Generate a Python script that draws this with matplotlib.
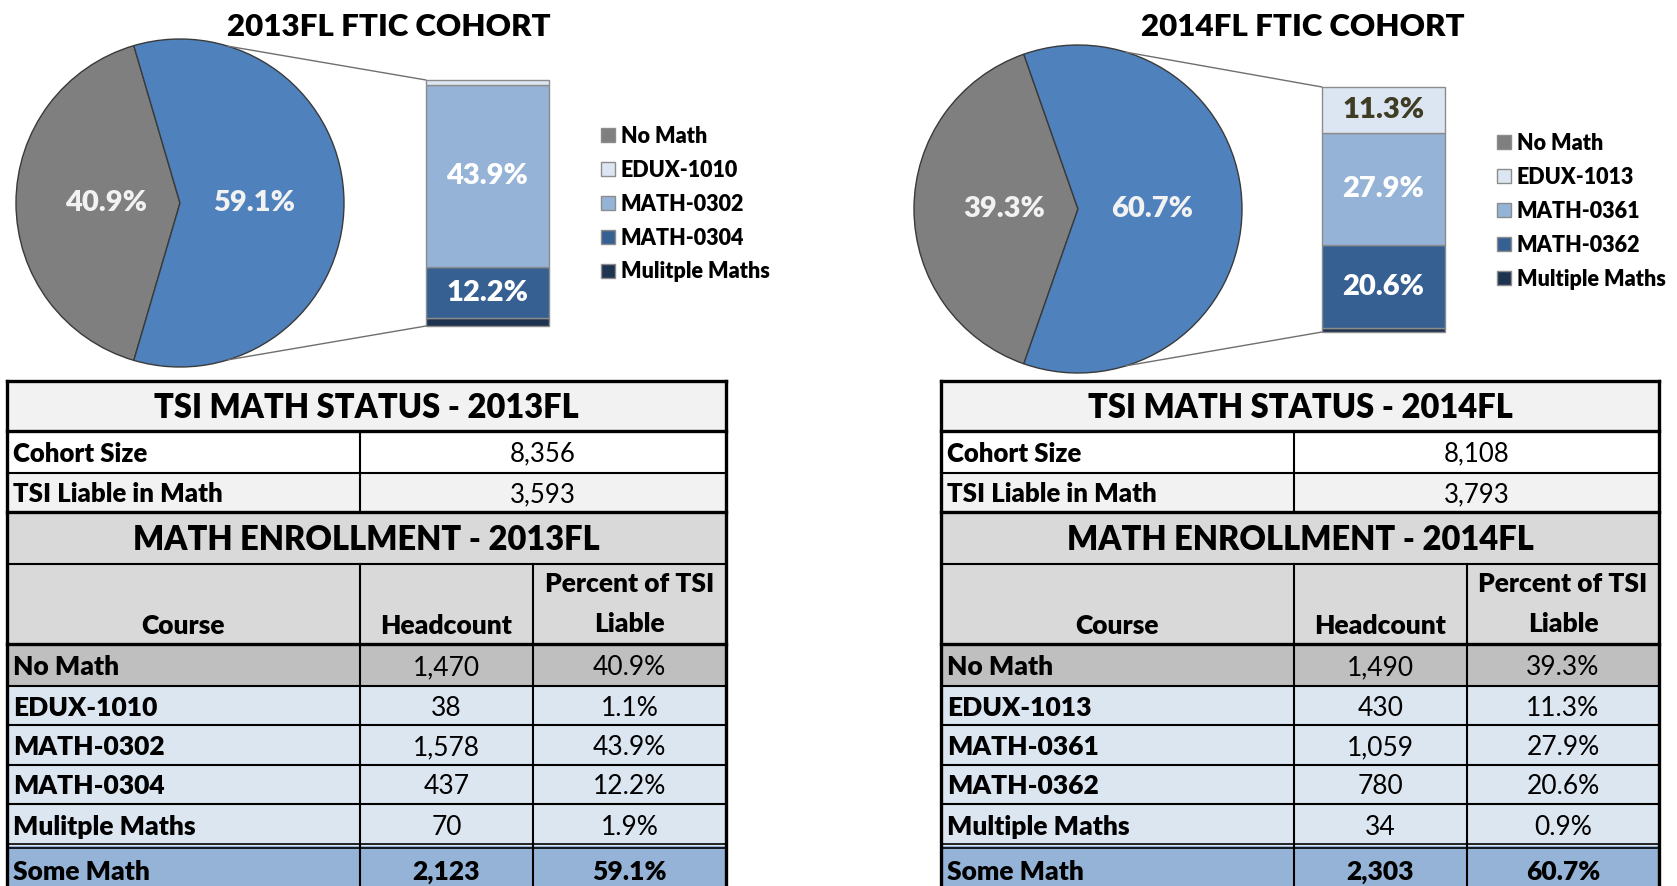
import numpy as np
import matplotlib
matplotlib.use("Agg")
import matplotlib.pyplot as plt
from matplotlib.patches import Rectangle, ConnectionPatch

plt.rcParams['font.family'] = ['Lato', 'DejaVu Sans']

# ---- data ----
terms = ["2013FL", "2014FL"]
cohort_size = [8356, 8108]
tsi_liable = [3593, 3793]

courses_2013 = ["No Math", "EDUX-1010", "MATH-0302", "MATH-0304", "Mulitple Maths"]
headcount_2013 = [1470, 38, 1578, 437, 70]
pct_2013 = [40.9, 1.1, 43.9, 12.2, 1.9]

courses_2014 = ["No Math", "EDUX-1013", "MATH-0361", "MATH-0362", "Multiple Maths"]
headcount_2014 = [1490, 430, 1059, 780, 34]
pct_2014 = [39.3, 11.3, 27.9, 20.6, 0.9]

some_math_count = [2123, 2303]
some_math_pct = [59.1, 60.7]

# ---- styles ----
pie_colors = ["#7f7f7f", "#4f81bd"]
course_colors = ["#7f7f7f", "#dce6f2", "#95b3d7", "#376092", "#1e3350"]
bar_text_colors = [None, "#3f3c24", "white", "white", "white"]
BW = 'heavy'

W, H = 1677, 886
fig = plt.figure(figsize=(W / 100, H / 100), dpi=100)


def px_axes(x0, y0, x1, y1):
    return fig.add_axes([x0 / W, 1 - y1 / H, (x1 - x0) / W, (y1 - y0) / H])


ax0 = fig.add_axes([0, 0, 1, 1])
ax0.set_xlim(0, W)
ax0.set_ylim(H, 0)
ax0.axis('off')

# panel layout (pixels)
panels = [
    dict(title_x=389, pie_c=(180, 203), bar=(426, 80, 549, 326), leg=(601, 135),
         tcols=[7, 360, 533, 726]),
    dict(title_x=1303, pie_c=(1078, 209), bar=(1322, 87, 1445, 332), leg=(1497, 142),
         tcols=[941, 1294, 1467, 1659]),
]
pie_r = 164
link_angle = 73
trows = [381, 431, 473, 512, 564, 644, 686, 725, 765, 804, 846, 890]

all_courses = [courses_2013, courses_2014]
all_counts = [headcount_2013, headcount_2014]
all_pcts = [pct_2013, pct_2014]

for k, p in enumerate(panels):
    courses, counts, pcts = all_courses[k], all_counts[k], all_pcts[k]

    # title
    ax0.text(p['title_x'], 36, f"{terms[k]} FTIC COHORT", ha='center', va='baseline',
             fontsize=22.5, fontweight=BW)

    # pie: No Math vs Some Math
    cx, cy = p['pie_c']
    pad = pie_r * 1.02
    axp = px_axes(cx - pad, cy - pad, cx + pad, cy + pad)
    vals = [counts[0], some_math_count[k]]
    start = 180 - vals[0] / sum(vals) * 180
    axp.pie(vals, colors=pie_colors, startangle=start, autopct='%.1f%%', pctdistance=0.45,
            wedgeprops=dict(edgecolor='#3a3a3a', linewidth=1.0),
            textprops=dict(color='#f2f2f2', fontsize=21, fontweight=BW))
    axp.set_aspect('auto')
    axp.set_xlim(-1.02, 1.02)
    axp.set_ylim(-1.02, 1.02)

    # stacked bar of the Some Math split
    axb = px_axes(*p['bar'])
    bottom = 0
    for i in range(len(courses) - 1, 0, -1):
        bars = axb.bar(0, pcts[i], width=1, bottom=bottom, color=course_colors[i],
                       edgecolor='#8c8c8c', linewidth=1)
        for b in bars:
            b.set_clip_on(False)
        if pcts[i] >= 10:
            axb.text(0, bottom + pcts[i] / 2, f"{pcts[i]:.1f}%", ha='center', va='center',
                     color=bar_text_colors[i], fontsize=21, fontweight=BW)
        bottom += pcts[i]
    axb.set_xlim(-0.5, 0.5)
    axb.set_ylim(0, bottom)
    axb.axis('off')

    # connector lines
    for ang, yb in [(link_angle, bottom), (-link_angle, 0)]:
        con = ConnectionPatch(xyA=(np.cos(np.radians(ang)), np.sin(np.radians(ang))),
                              coordsA=axp.transData, xyB=(-0.5, yb), coordsB=axb.transData,
                              color='#6f6f6f', lw=1)
        fig.add_artist(con)

    # legend
    lx, ly = p['leg']
    for i, lab in enumerate(courses):
        y = ly + i * 34
        ax0.add_patch(Rectangle((lx, y - 7), 14, 14, facecolor=course_colors[i],
                                edgecolor='#8c8c8c', lw=1))
        ax0.text(lx + 20, y + 7.5, lab, fontsize=15.5, fontweight=BW, va='baseline')

    # table
    c = p['tcols']
    fills = ["#f2f2f2", "white", "#f2f2f2", "#d9d9d9", "#d9d9d9", "#bfbfbf",
             "#dce6f1", "#dce6f1", "#dce6f1", "#dce6f1", "#95b3d7"]
    for r, fc in enumerate(fills):
        ax0.add_patch(Rectangle((c[0], trows[r]), c[3] - c[0], trows[r + 1] - trows[r],
                                facecolor=fc, edgecolor='none'))

    def mid(r):
        return (trows[r] + trows[r + 1]) / 2

    big, body, small = 23.5, 19, 18.5
    ax0.text((c[0] + c[3]) / 2, mid(0) + 12, f"TSI MATH STATUS - {terms[k]}",
             ha='center', va='baseline', fontsize=big, fontweight=BW)
    ax0.text((c[0] + c[3]) / 2, mid(3) + 12, f"MATH ENROLLMENT - {terms[k]}",
             ha='center', va='baseline', fontsize=big, fontweight=BW)
    for r, lab, v in [(1, "Cohort Size", cohort_size[k]), (2, "TSI Liable in Math", tsi_liable[k])]:
        ax0.text(c[0] + 6, mid(r) + 9.5, lab, ha='left', va='baseline', fontsize=small,
                 fontweight=BW)
        ax0.text((c[1] + c[3]) / 2, mid(r) + 9.5, f"{v:,}", ha='center', va='baseline',
                 fontsize=small)
    # header
    ax0.text((c[0] + c[1]) / 2, 634, "Course", ha='center', va='baseline', fontsize=body,
             fontweight=BW)
    ax0.text((c[1] + c[2]) / 2, 634, "Headcount", ha='center', va='baseline',
             fontsize=body, fontweight=BW)
    ax0.text((c[2] + c[3]) / 2, 592, "Percent of TSI", ha='center', va='baseline',
             fontsize=body, fontweight=BW)
    ax0.text((c[2] + c[3]) / 2, 632, "Liable", ha='center', va='baseline', fontsize=body,
             fontweight=BW)
    # course rows
    for i, lab in enumerate(courses):
        r = 5 + i
        y = mid(r) + 10
        ax0.text(c[0] + 6, y, lab, ha='left', va='baseline', fontsize=body, fontweight=BW)
        ax0.text((c[1] + c[2]) / 2, y, f"{counts[i]:,}", ha='center', va='baseline',
                 fontsize=body)
        ax0.text((c[2] + c[3]) / 2, y, f"{pcts[i]:.1f}%", ha='center', va='baseline',
                 fontsize=body)
    y = 880
    ax0.text(c[0] + 6, y, "Some Math", ha='left', va='baseline', fontsize=body, fontweight=BW)
    ax0.text((c[1] + c[2]) / 2, y, f"{some_math_count[k]:,}", ha='center', va='baseline',
             fontsize=body, fontweight=BW)
    ax0.text((c[2] + c[3]) / 2, y, f"{some_math_pct[k]:.1f}%", ha='center', va='baseline',
             fontsize=body, fontweight=BW)

    # grid lines
    thick, thin = 2.4, 1.5
    for r in range(len(trows) - 1):
        yy = trows[r]
        if r == 10:
            ax0.plot([c[0], c[3]], [yy - 2, yy - 2], color='black', lw=1.2)
            ax0.plot([c[0], c[3]], [yy + 2, yy + 2], color='black', lw=1.2)
            continue
        lw = thick if r in (0, 1, 3, 5) else thin
        ax0.plot([c[0], c[3]], [yy, yy], color='black', lw=lw, solid_capstyle='projecting')
    ax0.plot([c[0], c[0]], [trows[0], trows[-1]], color='black', lw=thick)
    ax0.plot([c[3], c[3]], [trows[0], trows[-1]], color='black', lw=thick)
    ax0.plot([c[1], c[1]], [trows[1], trows[3]], color='black', lw=thin)
    ax0.plot([c[1], c[1]], [trows[4], trows[-1]], color='black', lw=thin)
    ax0.plot([c[2], c[2]], [trows[4], trows[-1]], color='black', lw=thin)

fig.savefig("out.png", dpi=100)
